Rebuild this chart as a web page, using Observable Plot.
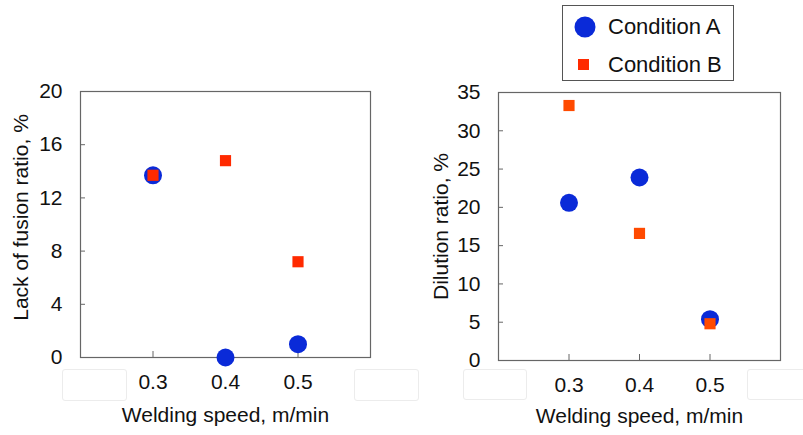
<!DOCTYPE html>
<html>
<head>
<meta charset="utf-8">
<script src="https://cdn.jsdelivr.net/npm/d3@7"></script>
<script src="https://cdn.jsdelivr.net/npm/@observablehq/plot@0.6"></script>
<style>
  html, body { margin: 0; padding: 0; background: #fff; }
  #wrap { position: relative; width: 803px; height: 435px; overflow: hidden; font-family: "Liberation Sans", Arial, sans-serif; }
  .panel { position: absolute; top: 0; }
  .mask { position: absolute; background: #fff; border: 1px solid #ececec; border-radius: 3px; box-sizing: border-box; }
  #legend { position: absolute; left: 562px; top: 5px; width: 172px; height: 76px; border: 1.5px solid #555; box-sizing: border-box; background: #fff; }
  #legend .item { position: absolute; font-size: 22px; color: #111; line-height: 1; white-space: nowrap; }
  #legend svg { position: absolute; overflow: visible; }
</style>
</head>
<body>
<div id="wrap"></div>
<script>
// ---- data ----
const speeds = [0.3, 0.4, 0.5];
const seriesNames = ["Condition A", "Condition B"];
const lackOfFusionA = [13.7, 0, 1.0];
const lackOfFusionB = [13.7, 14.8, 7.2];
const dilutionA = [20.6, 23.9, 5.4];
const dilutionB = [33.3, 16.6, 4.8];
const xTicks = [0.3, 0.4, 0.5];
const lofTicks = [0, 4, 8, 12, 16, 20];
const dilTicks = [0, 5, 10, 15, 20, 25, 30, 35];
const xLabel = "Welding speed, m/min";
const lofLabel = "Lack of fusion ratio, %";
const dilLabel = "Dilution ratio, %";

const blue = "#0a2ad8";

function rows(vals) { return speeds.map((s, i) => ({x: s, y: vals[i]})); }

function chart({A, B, yTicks, yDomain, yLabel, colorB, width, mL, mR, mT, mB, yLabelDx, yLabelDy, xLabelDy}) {
  return Plot.plot({
    width, height: 435,
    marginLeft: mL, marginRight: mR, marginTop: mT, marginBottom: mB,
    style: {fontFamily: "Liberation Sans, Arial, sans-serif", fontSize: "21px", color: "#111", background: "#fff"},
    x: {domain: [0.2, 0.6]},
    y: {domain: yDomain},
    marks: [
      Plot.frame({stroke: "#666", strokeWidth: 1.2}),
      Plot.axisY({ticks: yTicks, tickSize: 5, dx: 5, stroke: "#666", tickFormat: () => "", label: null}),
      Plot.axisY({ticks: yTicks, tickSize: 0, tickPadding: 18, label: null, fill: "#111"}),
      Plot.axisX({ticks: xTicks, tickSize: 6, dy: -6, stroke: "#666", tickFormat: () => "", label: null}),
      Plot.axisX({ticks: xTicks, tickSize: 0, tickPadding: 17, tickFormat: d3.format(".1f"), label: null, fill: "#111"}),
      Plot.text([xLabel], {frameAnchor: "bottom", dy: xLabelDy, text: d => d, textAnchor: "middle", lineAnchor: "middle", fill: "#111"}),
      Plot.text([yLabel], {frameAnchor: "left", dx: yLabelDx, dy: yLabelDy, rotate: -90, text: d => d, textAnchor: "middle", lineAnchor: "middle", fill: "#111"}),
      Plot.dot(rows(A), {x: "x", y: "y", r: 9, fill: blue, symbol: "circle"}),
      Plot.dot(rows(B), {x: "x", y: "y", r: 6.3, fill: colorB, symbol: "square"})
    ]
  });
}

const wrap = document.getElementById("wrap");

const left = chart({A: lackOfFusionA, B: lackOfFusionB, yTicks: lofTicks, yDomain: [0, 20], yLabel: lofLabel,
  colorB: "#ff2a00", width: 400, mL: 80, mR: 30, mT: 91, mB: 78, yLabelDx: -59, yLabelDy: -7, xLabelDy: 58});
const right = chart({A: dilutionA, B: dilutionB, yTicks: dilTicks, yDomain: [0, 35], yLabel: dilLabel,
  colorB: "#ff4a00", width: 403, mL: 98, mR: 23, mT: 92, mB: 75, yLabelDx: -57, yLabelDy: 0, xLabelDy: 56});

left.classList.add("panel"); left.style.left = "0px";
right.classList.add("panel"); right.style.left = "400px";
wrap.appendChild(left);
wrap.appendChild(right);

// faint white boxes covering the outer tick labels
[[62, 369, 65, 32], [354, 369, 65, 32], [463, 369, 64, 31], [747, 369, 70, 31]].forEach(([l, t, w, h]) => {
  const m = document.createElement("div");
  m.className = "mask";
  Object.assign(m.style, {left: l + "px", top: t + "px", width: w + "px", height: h + "px"});
  wrap.appendChild(m);
});

// legend
const lg = document.createElement("div");
lg.id = "legend";
lg.innerHTML = `
  <svg style="left:11px;top:10px" width="22" height="22"><circle cx="11" cy="11" r="10.5" fill="${blue}"/></svg>
  <div class="item" style="left:45px;top:10px">${seriesNames[0]}</div>
  <svg style="left:15px;top:53px" width="12" height="12"><rect x="0" y="0" width="11" height="11" fill="#ff2a00"/></svg>
  <div class="item" style="left:45px;top:48px">${seriesNames[1]}</div>`;
wrap.appendChild(lg);
</script>
</body>
</html>
